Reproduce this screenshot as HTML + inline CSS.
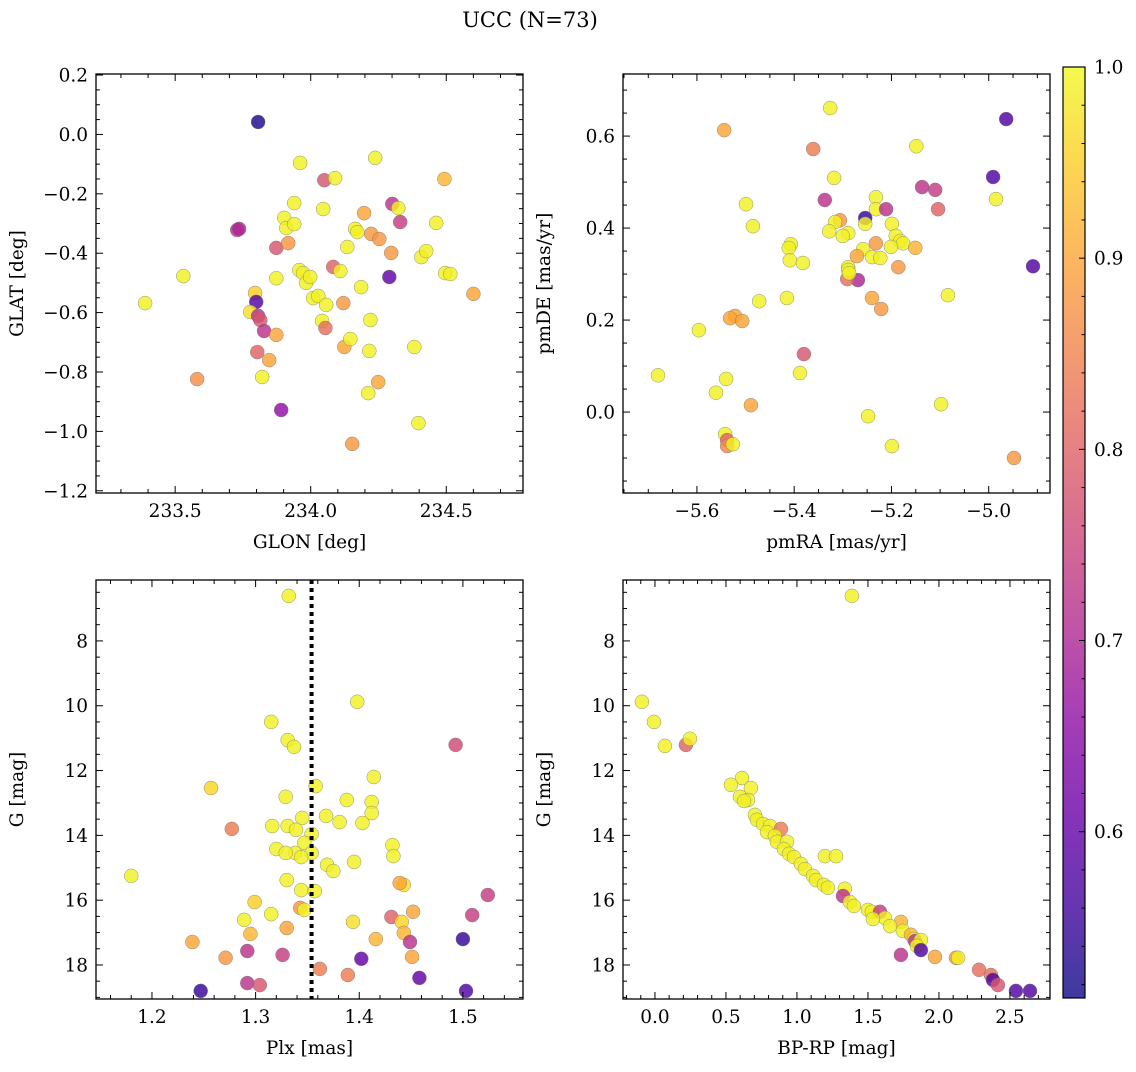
<!DOCTYPE html>
<html><head><meta charset="utf-8">
<style>
html,body{margin:0;padding:0;background:#fff;}
svg text{font-family:"DejaVu Serif","Liberation Serif",serif;fill:#000;}
</style></head>
<body>
<svg id="fig" width="1136" height="1067" viewBox="0 0 1136 1067" xmlns="http://www.w3.org/2000/svg">
<defs>
<linearGradient id="plasma" x1="0" y1="1" x2="0" y2="0">
<stop offset="0" stop-color="#0d0887"/><stop offset="0.1" stop-color="#41049d"/><stop offset="0.2" stop-color="#6a00a8"/><stop offset="0.3" stop-color="#8f0da4"/><stop offset="0.4" stop-color="#b12a90"/><stop offset="0.5" stop-color="#cc4778"/><stop offset="0.6" stop-color="#e16462"/><stop offset="0.7" stop-color="#f2844b"/><stop offset="0.8" stop-color="#fca636"/><stop offset="0.9" stop-color="#fcce25"/><stop offset="1" stop-color="#f0f921"/>
</linearGradient>
</defs>
<text x="530" y="27" font-size="21" text-anchor="middle">UCC (N=73)</text>
</svg>
<script>
// ---- Panel 1: GLON / GLAT ----
const glon = [233.806,233.530,233.389,233.581,233.729,233.736,233.795,233.799,233.777,233.806,233.814,233.828,233.803,233.847,233.821,233.891,233.873,233.873,233.873,233.902,233.910,233.917,233.939,233.939,233.961,233.958,233.972,233.983,233.998,234.009,234.028,234.042,234.046,234.050,234.054,234.057,234.090,234.083,234.109,234.120,234.124,234.135,234.146,234.153,234.164,234.172,234.186,234.197,234.223,234.220,234.216,234.212,234.238,234.249,234.253,234.290,234.297,234.301,234.323,234.330,234.382,234.397,234.408,234.426,234.463,234.493,234.496,234.515,234.600];
const glat = [0.042,-0.477,-0.568,-0.824,-0.322,-0.318,-0.534,-0.564,-0.598,-0.611,-0.625,-0.662,-0.733,-0.760,-0.817,-0.928,-0.675,-0.484,-0.382,-0.281,-0.315,-0.366,-0.231,-0.302,-0.096,-0.457,-0.467,-0.500,-0.480,-0.551,-0.544,-0.628,-0.251,-0.154,-0.652,-0.574,-0.147,-0.446,-0.460,-0.568,-0.716,-0.379,-0.689,-1.042,-0.318,-0.329,-0.514,-0.265,-0.335,-0.625,-0.729,-0.871,-0.079,-0.834,-0.352,-0.480,-0.399,-0.234,-0.248,-0.295,-0.716,-0.972,-0.413,-0.393,-0.298,-0.150,-0.467,-0.470,-0.537];
const prob1 = [0.53,0.99,0.99,0.87,0.72,0.70,0.95,0.58,0.97,0.72,0.78,0.72,0.8,0.9,0.99,0.66,0.9,0.99,0.78,0.99,0.99,0.88,0.99,0.99,0.99,0.99,0.99,0.99,0.99,0.99,0.99,0.99,0.99,0.78,0.82,0.99,0.99,0.8,0.99,0.88,0.9,0.99,0.99,0.88,0.99,0.99,0.99,0.9,0.88,0.99,0.99,0.99,0.99,0.9,0.88,0.6,0.88,0.72,0.99,0.74,0.99,0.99,0.99,0.99,0.99,0.92,0.99,0.99,0.9];

// ---- Panel 2: pmRA / pmDE ----
const pmra = [-5.326,-5.544,-4.964,-5.149,-5.361,-5.318,-4.991,-4.985,-5.337,-5.137,-5.110,-5.232,-5.499,-5.232,-5.211,-5.104,-5.254,-5.306,-5.316,-5.254,-5.199,-5.485,-5.328,-5.289,-5.300,-5.191,-5.182,-5.176,-5.232,-5.407,-5.411,-5.151,-5.201,-5.258,-5.240,-5.271,-5.409,-5.223,-5.382,-5.269,-5.291,-4.909,-5.186,-5.289,-5.289,-5.287,-5.084,-5.240,-5.415,-5.472,-5.221,-5.522,-5.532,-5.507,-5.596,-5.380,-5.680,-5.540,-5.388,-5.489,-5.098,-5.248,-5.561,-5.542,-5.538,-5.538,-5.526,-5.199,-4.948];
const pmde = [0.661,0.613,0.637,0.578,0.572,0.509,0.511,0.463,0.461,0.489,0.483,0.467,0.452,0.441,0.441,0.441,0.422,0.417,0.413,0.409,0.409,0.404,0.393,0.389,0.383,0.383,0.372,0.367,0.367,0.365,0.357,0.357,0.359,0.354,0.337,0.339,0.330,0.335,0.324,0.287,0.289,0.317,0.315,0.315,0.309,0.302,0.254,0.248,0.248,0.241,0.224,0.209,0.204,0.198,0.178,0.126,0.080,0.072,0.085,0.015,0.017,-0.009,0.042,-0.048,-0.061,-0.074,-0.070,-0.074,-0.100];
const prob2 = [0.99,0.9,0.58,0.99,0.84,0.99,0.58,0.99,0.72,0.72,0.74,0.99,0.99,0.99,0.72,0.8,0.55,0.88,0.99,0.99,0.99,0.99,0.99,0.99,0.99,0.99,0.99,0.99,0.88,0.99,0.99,0.92,0.99,0.99,0.99,0.9,0.99,0.99,0.99,0.7,0.82,0.58,0.88,0.99,0.99,0.99,0.99,0.9,0.99,0.99,0.88,0.9,0.9,0.9,0.99,0.78,0.99,0.99,0.99,0.9,0.99,0.99,0.99,0.99,0.8,0.86,0.99,0.99,0.88];

// ---- Panel 3: Plx / G ----
const plx = [1.332,1.398,1.315,1.331,1.337,1.493,1.414,1.358,1.257,1.329,1.388,1.412,1.412,1.368,1.403,1.381,1.345,1.316,1.331,1.339,1.277,1.354,1.347,1.432,1.320,1.354,1.338,1.329,1.344,1.433,1.395,1.369,1.375,1.180,1.330,1.443,1.439,1.344,1.357,1.524,1.299,1.343,1.347,1.315,1.452,1.509,1.431,1.394,1.289,1.441,1.330,1.295,1.443,1.449,1.416,1.239,1.500,1.292,1.326,1.271,1.451,1.402,1.362,1.389,1.458,1.292,1.304,1.247,1.503];
const gmag3 = [6.61,9.88,10.50,11.06,11.27,11.21,12.20,12.48,12.54,12.81,12.91,12.97,13.31,13.40,13.62,13.59,13.46,13.71,13.71,13.83,13.80,13.96,14.23,14.30,14.42,14.54,14.54,14.54,14.67,14.64,14.82,14.91,15.10,15.25,15.38,15.53,15.47,15.69,15.72,15.84,16.06,16.24,16.30,16.43,16.36,16.46,16.52,16.67,16.61,16.67,16.86,17.04,17.01,17.29,17.20,17.29,17.20,17.57,17.69,17.78,17.75,17.81,18.12,18.31,18.40,18.56,18.62,18.80,18.80];
const prob3 = [0.99,0.99,0.99,0.99,0.99,0.76,0.99,0.99,0.96,0.99,0.99,0.99,0.99,0.99,0.99,0.99,0.99,0.99,0.99,0.99,0.84,0.99,0.99,0.99,0.99,0.99,0.99,0.99,0.99,0.99,0.99,0.99,0.99,0.99,0.99,0.97,0.9,0.99,0.99,0.74,0.95,0.88,0.99,0.99,0.9,0.74,0.8,0.97,0.99,0.96,0.9,0.92,0.92,0.72,0.92,0.9,0.55,0.72,0.74,0.88,0.9,0.6,0.84,0.84,0.6,0.72,0.78,0.55,0.58];

// ---- Panel 4: BP-RP / G ----
const bprp = [1.387,-0.092,-0.007,0.070,0.218,0.246,0.613,0.535,0.676,0.599,0.655,0.627,0.704,0.718,0.761,0.810,0.887,0.789,0.845,0.859,0.930,0.908,0.944,0.979,1.197,1.275,1.028,1.056,1.113,1.134,1.190,1.218,1.338,1.324,1.373,1.401,1.500,1.528,1.585,1.620,1.535,1.732,1.655,1.746,1.803,1.824,1.831,1.873,1.845,1.873,1.732,1.972,2.120,2.135,2.282,2.366,2.380,2.415,2.542,2.641];
const gmag4 = [6.61,9.88,10.50,11.24,11.21,11.02,12.23,12.44,12.54,12.81,12.91,12.94,13.37,13.52,13.65,13.71,13.80,13.90,14.02,14.20,14.20,14.42,14.57,14.67,14.64,14.64,14.88,15.04,15.25,15.38,15.53,15.62,15.65,15.87,16.06,16.18,16.30,16.36,16.36,16.55,16.58,16.67,16.80,16.95,17.07,17.20,17.26,17.23,17.41,17.54,17.69,17.75,17.78,17.78,18.15,18.31,18.46,18.62,18.80,18.80];
const prob4 = [0.99,0.99,0.99,0.99,0.8,0.99,0.99,0.99,0.99,0.99,0.99,0.99,0.99,0.99,0.99,0.99,0.84,0.99,0.99,0.99,0.99,0.99,0.99,0.99,0.99,0.99,0.99,0.99,0.99,0.99,0.99,0.99,0.99,0.72,0.99,0.99,0.99,0.99,0.74,0.99,0.99,0.92,0.99,0.99,0.92,0.99,0.72,0.99,0.99,0.58,0.72,0.9,0.88,0.99,0.82,0.82,0.58,0.78,0.58,0.58];

const plxLine = 1.354;
const pxTicks = [233.5,234.0,234.5];
const pyTicks1 = [0.2,0.0,-0.2,-0.4,-0.6,-0.8,-1.0,-1.2];
const pmraTicks = [-5.6,-5.4,-5.2,-5.0];
const pmdeTicks = [0.0,0.2,0.4,0.6];
const plxTicks = [1.2,1.3,1.4,1.5];
const gTicks = [8,10,12,14,16,18];
const bpTicks = [0.0,0.5,1.0,1.5,2.0,2.5];
const cbTicks = [0.6,0.7,0.8,0.9,1.0];
const cbMin = 0.513, cbMax = 1.0;

const FS = 18.5;
const NS = 'http://www.w3.org/2000/svg';
const svg = document.getElementById('fig');
function mk(tag, attrs, parent){ const e=document.createElementNS(NS,tag); for(const k in attrs) e.setAttribute(k,attrs[k]); (parent||svg).appendChild(e); return e; }

const stops=[[0,[13,8,135]],[0.1,[65,4,157]],[0.2,[106,0,168]],[0.3,[143,13,164]],[0.4,[177,42,144]],[0.5,[204,71,120]],[0.6,[225,100,98]],[0.7,[242,132,75]],[0.8,[252,166,54]],[0.9,[252,206,37]],[1,[240,249,33]]];
function plasma(v){
  let t=(v-cbMin)/(cbMax-cbMin); t=Math.max(0,Math.min(1,t));
  for(let i=1;i<stops.length;i++){ if(t<=stops[i][0]){ const a=stops[i-1],b=stops[i]; const f=(t-a[0])/(b[0]-a[0]); const c=a[1].map((x,j)=>Math.round(x+(b[1][j]-x)*f)); return 'rgb('+c.join(',')+')'; } }
  return 'rgb(240,249,33)';
}
function fmt(v,d){ const s=Math.abs(v).toFixed(d); return (v<-1e-9?'\u2212':'')+s; }

function panel(name, L,T,R,B, xr, yr, xticks, yticks, xminor, yminor, xdec, ydec, xlabel, ylabel, xs, ys, ps){
  const g=mk('g',{});
  
  
  const X=v=>L+(v-xr[0])/(xr[1]-xr[0])*(R-L);
  const Y=v=>T+(v-yr[0])/(yr[1]-yr[0])*(B-T);
  const pg=mk('g',{},g);
  
  
  for(let i=0;i<xs.length;i++){
    const c=mk('circle',{cx:X(xs[i]).toFixed(1),cy:Y(ys[i]).toFixed(1),r:7,fill:plasma(ps[i]),'fill-opacity':0.82,stroke:'#777','stroke-width':0.5,'stroke-opacity':0.8},pg);
    
    
  }
  const frame=mk('rect',{x:L,y:T,width:R-L,height:B-T,fill:'none',stroke:'#000','stroke-width':1.3},g);
  
  
  const lo=Math.min(xr[0],xr[1]), hi=Math.max(xr[0],xr[1]);
  for(let v=Math.ceil(lo/xminor-1e-6)*xminor; v<=hi+1e-9; v+=xminor){
    const x=X(v); const major=xticks.some(t=>Math.abs(t-v)<xminor/10); const len=major?7:4;
    mk('line',{x1:x,y1:B,x2:x,y2:B-len,stroke:'#000','stroke-width':1},g);
    mk('line',{x1:x,y1:T,x2:x,y2:T+len,stroke:'#000','stroke-width':1},g);
  }
  const ylo=Math.min(yr[0],yr[1]), yhi=Math.max(yr[0],yr[1]);
  for(let v=Math.ceil(ylo/yminor-1e-6)*yminor; v<=yhi+1e-9; v+=yminor){
    const y=Y(v); const major=yticks.some(t=>Math.abs(t-v)<yminor/10); const len=major?7:4;
    mk('line',{x1:L,y1:y,x2:L+len,y2:y,stroke:'#000','stroke-width':1},g);
    mk('line',{x1:R,y1:y,x2:R-len,y2:y,stroke:'#000','stroke-width':1},g);
  }
  xticks.forEach(t=>{ const e=mk('text',{x:X(t),y:B+24,'font-size':FS,'text-anchor':'middle'},g); e.textContent=fmt(t,xdec);
      });
  yticks.forEach(t=>{ const e=mk('text',{x:L-8,y:Y(t)+6.5,'font-size':FS,'text-anchor':'end'},g); e.textContent=fmt(t,ydec);
      });
  const xl=mk('text',{x:(L+R)/2,y:B+55,'font-size':FS,'text-anchor':'middle'},g); xl.textContent=xlabel;
   
  const yl=mk('text',{x:0,y:0,'font-size':FS,'text-anchor':'middle',transform:'translate('+(L-73)+','+((T+B)/2)+') rotate(-90)'},g); yl.textContent=ylabel;
   
  return {X,Y,g};
}

panel('glon-glat-panel',96,74,523,493,[233.208,234.783],[0.2035,-1.2075],pxTicks,pyTicks1,0.1,0.05,1,1,'GLON [deg]','GLAT [deg]',glon,glat,prob1);
panel('pm-panel',623,74,1050,493,[-5.752,-4.874],[0.735,-0.176],pmraTicks,pmdeTicks,0.05,0.05,1,1,'pmRA [mas/yr]','pmDE [mas/yr]',pmra,pmde,prob2);
const p3=panel('plx-g-panel',96,580,523,999,[1.146,1.558],[6.12,19.05],plxTicks,gTicks,0.02,0.5,1,0,'Plx [mas]','G [mag]',plx,gmag3,prob3);
const vl=mk('line',{x1:p3.X(plxLine),y1:580,x2:p3.X(plxLine),y2:999,stroke:'#000','stroke-width':4,'stroke-dasharray':'4,4'},p3.g);


panel('cmd-panel',623,580,1050,999,[-0.225,2.782],[6.12,19.05],bpTicks,gTicks,0.1,0.5,1,0,'BP-RP [mag]','G [mag]',bprp,gmag4,prob4);

const cb=mk('g',{});


const CT=67, CB=998, CL=1063, CR=1085;
const CY=v=>CB-(v-cbMin)/(cbMax-cbMin)*(CB-CT);
mk('rect',{x:CL,y:CT,width:CR-CL,height:CB-CT,fill:'url(#plasma)','fill-opacity':0.8},cb);
mk('rect',{x:CL,y:CT,width:CR-CL,height:CB-CT,fill:'none',stroke:'#000','stroke-width':1.2},cb);
for(let v=0.52; v<=1.0001; v+=0.02){ const y=CY(v); const major=cbTicks.some(t=>Math.abs(t-v)<0.005);
  mk('line',{x1:CR,y1:y,x2:CR-(major?6:3.5),y2:y,stroke:'#000','stroke-width':1},cb); }
cbTicks.forEach(t=>{ const e=mk('text',{x:CR+9,y:CY(t)+6.5,'font-size':FS},cb); e.textContent=t.toFixed(1);
    });
</script>
</body></html>
